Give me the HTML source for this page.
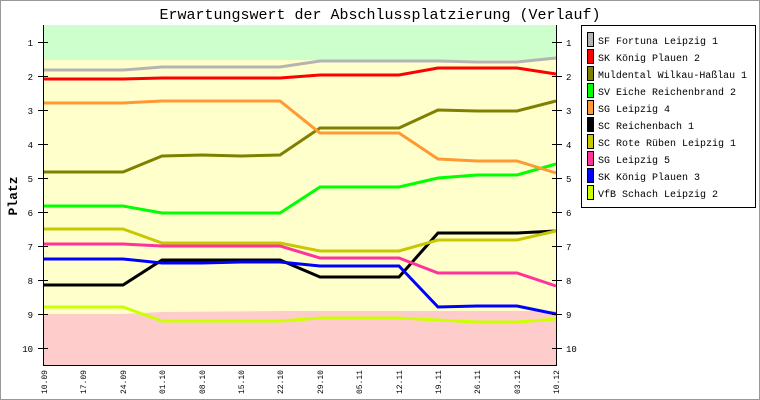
<!DOCTYPE html>
<html><head><meta charset="utf-8"><style>
html,body{margin:0;padding:0;background:#fff;}
svg{display:block;font-family:"Liberation Mono","DejaVu Sans Mono",monospace;}
</style></head><body>
<svg width="760" height="400" viewBox="0 0 760 400" xmlns="http://www.w3.org/2000/svg">
<rect x="0.5" y="0.5" width="759" height="399" fill="#fff" stroke="#999" stroke-width="1"/>
<text x="380" y="19" font-size="15" text-anchor="middle" fill="#000">Erwartungswert der Abschlussplatzierung (Verlauf)</text>
<rect x="44" y="25" width="512" height="340" fill="#ffffcc"/>
<rect x="44" y="25" width="512" height="35" fill="#ccffcc"/>
<polygon points="44,314 123,314 162,312 280,311 320,311 556,311 556,365 44,365" fill="#ffcccc"/>
<g fill="none" stroke-width="3" stroke-linejoin="miter">
<polyline stroke="#b4b4b4" points="44,70 83,70 123,70 162,67 202,67 241,67 280,67 320,61 359,61 399,61 438,61 477,62 517,62 556,58"/>
<polyline stroke="#ff0000" points="44,79 83,79 123,79 162,78 202,78 241,78 280,78 320,75 359,75 399,75 438,68 477,68 517,68 556,74"/>
<polyline stroke="#808000" points="44,172 83,172 123,172 162,156 202,155 241,156 280,155 320,128 359,128 399,128 438,110 477,111 517,111 556,101"/>
<polyline stroke="#00ff00" points="44,206 83,206 123,206 162,213 202,213 241,213 280,213 320,187 359,187 399,187 438,178 477,175 517,175 556,164"/>
<polyline stroke="#ff9933" points="44,103 83,103 123,103 162,101 202,101 241,101 280,101 320,133 359,133 399,133 438,159 477,161 517,161 556,173"/>
<polyline stroke="#000000" points="44,285 83,285 123,285 162,260 202,260 241,260 280,260 320,277 359,277 399,277 438,233 477,233 517,233 556,231"/>
<polyline stroke="#c8c800" points="44,229 83,229 123,229 162,243 202,243 241,243 280,243 320,251 359,251 399,251 438,240 477,240 517,240 556,231"/>
<polyline stroke="#ff3399" points="44,244 83,244 123,244 162,246 202,246 241,246 280,246 320,258 359,258 399,258 438,273 477,273 517,273 556,286"/>
<polyline stroke="#0000ff" points="44,259 83,259 123,259 162,263 202,263 241,262 280,262 320,266 359,266 399,266 438,307 477,306 517,306 556,314"/>
<polyline stroke="#ccff00" points="44,307 83,307 123,307 162,321 202,321 241,321 280,321 320,318 359,318 399,318 438,320 477,322 517,322 556,319"/>
</g>
<line x1="43.5" y1="25" x2="43.5" y2="366" stroke="#000"/>
<line x1="556.5" y1="25" x2="556.5" y2="366" stroke="#000"/>
<line x1="43" y1="365.5" x2="557" y2="365.5" stroke="#000"/>
<g stroke="#000">
<line x1="38" y1="42.5" x2="48" y2="42.5"/><line x1="38" y1="76.5" x2="48" y2="76.5"/><line x1="38" y1="110.5" x2="48" y2="110.5"/><line x1="38" y1="144.5" x2="48" y2="144.5"/><line x1="38" y1="178.5" x2="48" y2="178.5"/><line x1="38" y1="212.5" x2="48" y2="212.5"/><line x1="38" y1="246.5" x2="48" y2="246.5"/><line x1="38" y1="280.5" x2="48" y2="280.5"/><line x1="38" y1="314.5" x2="48" y2="314.5"/><line x1="38" y1="348.5" x2="48" y2="348.5"/>
<line x1="552" y1="42.5" x2="562" y2="42.5"/><line x1="552" y1="76.5" x2="562" y2="76.5"/><line x1="552" y1="110.5" x2="562" y2="110.5"/><line x1="552" y1="144.5" x2="562" y2="144.5"/><line x1="552" y1="178.5" x2="562" y2="178.5"/><line x1="552" y1="212.5" x2="562" y2="212.5"/><line x1="552" y1="246.5" x2="562" y2="246.5"/><line x1="552" y1="280.5" x2="562" y2="280.5"/><line x1="552" y1="314.5" x2="562" y2="314.5"/><line x1="552" y1="348.5" x2="562" y2="348.5"/>
</g>
<g font-size="9" fill="#000">
<g text-anchor="end">
<text x="33" y="46">1</text><text x="33" y="80">2</text><text x="33" y="114">3</text><text x="33" y="148">4</text><text x="33" y="182">5</text><text x="33" y="216">6</text><text x="33" y="250">7</text><text x="33" y="284">8</text><text x="33" y="318">9</text><text x="33" y="352">10</text>
</g>
<text x="566" y="46">1</text><text x="566" y="80">2</text><text x="566" y="114">3</text><text x="566" y="148">4</text><text x="566" y="182">5</text><text x="566" y="216">6</text><text x="566" y="250">7</text><text x="566" y="284">8</text><text x="566" y="318">9</text><text x="566" y="352">10</text>
<g text-anchor="end" font-size="8">
<text transform="translate(47,370) rotate(-90)">10.09</text>
<text transform="translate(86,370) rotate(-90)">17.09</text>
<text transform="translate(126,370) rotate(-90)">24.09</text>
<text transform="translate(165,370) rotate(-90)">01.10</text>
<text transform="translate(205,370) rotate(-90)">08.10</text>
<text transform="translate(244,370) rotate(-90)">15.10</text>
<text transform="translate(283,370) rotate(-90)">22.10</text>
<text transform="translate(323,370) rotate(-90)">29.10</text>
<text transform="translate(362,370) rotate(-90)">05.11</text>
<text transform="translate(402,370) rotate(-90)">12.11</text>
<text transform="translate(441,370) rotate(-90)">19.11</text>
<text transform="translate(480,370) rotate(-90)">26.11</text>
<text transform="translate(520,370) rotate(-90)">03.12</text>
<text transform="translate(559,370) rotate(-90)">10.12</text>
</g>
</g>
<text transform="translate(17,196) rotate(-90)" font-size="13" font-weight="bold" text-anchor="middle">Platz</text>
<rect x="581.5" y="25.5" width="174" height="182" fill="#fff" stroke="#000"/>
<g stroke="#000" stroke-width="1">
<rect x="587.5" y="32.5" width="6" height="14" fill="#b4b4b4"/>
<rect x="587.5" y="49.5" width="6" height="14" fill="#ff0000"/>
<rect x="587.5" y="66.5" width="6" height="14" fill="#808000"/>
<rect x="587.5" y="83.5" width="6" height="14" fill="#00ff00"/>
<rect x="587.5" y="100.5" width="6" height="14" fill="#ff9933"/>
<rect x="587.5" y="117.5" width="6" height="14" fill="#000000"/>
<rect x="587.5" y="134.5" width="6" height="14" fill="#c8c800"/>
<rect x="587.5" y="151.5" width="6" height="14" fill="#ff3399"/>
<rect x="587.5" y="168.5" width="6" height="14" fill="#0000ff"/>
<rect x="587.5" y="185.5" width="6" height="14" fill="#ccff00"/>
</g>
<g font-size="10" fill="#000">
<text x="598" y="44">SF Fortuna Leipzig 1</text>
<text x="598" y="61">SK König Plauen 2</text>
<text x="598" y="78" textLength="149" lengthAdjust="spacingAndGlyphs">Muldental Wilkau-Haßlau 1</text>
<text x="598" y="95">SV Eiche Reichenbrand 2</text>
<text x="598" y="112">SG Leipzig 4</text>
<text x="598" y="129">SC Reichenbach 1</text>
<text x="598" y="146">SC Rote Rüben Leipzig 1</text>
<text x="598" y="163">SG Leipzig 5</text>
<text x="598" y="180">SK König Plauen 3</text>
<text x="598" y="197">VfB Schach Leipzig 2</text>
</g>
</svg>
</body></html>
